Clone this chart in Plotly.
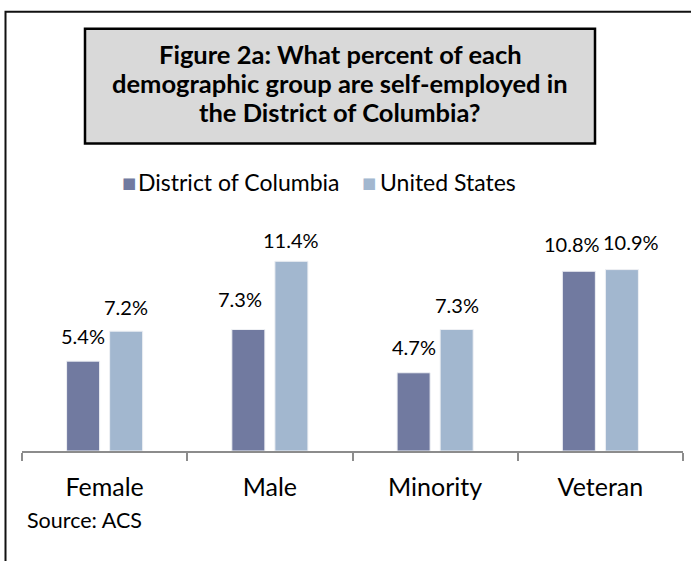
import plotly.graph_objects as go

categories = ["Female", "Male", "Minority", "Veteran"]
dc_values = [5.4, 7.3, 4.7, 10.8]
us_values = [7.2, 11.4, 7.3, 10.9]
series_names = ["District of Columbia", "United States"]
series_colors = ["#717AA0", "#A2B7CF"]
title_lines = ["Figure 2a: What percent of each",
               "demographic group are self-employed in",
               "the District of Columbia?"]
source_text = "Source: ACS"

FONT = "Lato, Carlito, Calibri, sans-serif"
W, H = 691, 561
L, R = 22, 8
AXIS_Y = 451
YMAX = 14
PX_PER = 16.67
TOP = AXIS_Y - YMAX * PX_PER


def px_x(p):
    return (p - L) / (W - L - R)


def px_y(p):
    return (AXIS_Y - p) / (AXIS_Y - TOP)


fig = go.Figure()
fig.add_trace(go.Bar(x=categories, y=dc_values, name=series_names[0], showlegend=False,
                     marker=dict(color=series_colors[0], line=dict(width=1, color="#EEF0F4"))))
fig.add_trace(go.Bar(x=categories, y=us_values, name=series_names[1], showlegend=False,
                     marker=dict(color=series_colors[1], line=dict(width=1, color="#EEF0F4"))))

annotations = []
# data labels (label offsets in pixels, as placed in the original)
dc_dx = [0, -8, 0, -7]
dc_dy = [25, 31, 26, 27]
us_dx = [0, 0, 0, 9]
us_dy = [24, 21, 25, 28]
LBL = dict(family=FONT, size=20, color="#000")
for i, c in enumerate(categories):
    annotations.append(dict(x=c, y=dc_values[i], xref="x", yref="y",
                            text=f"{dc_values[i]:.1f}%", showarrow=False,
                            xshift=-21.5 + dc_dx[i], yshift=dc_dy[i], font=LBL))
    annotations.append(dict(x=c, y=us_values[i], xref="x", yref="y",
                            text=f"{us_values[i]:.1f}%", showarrow=False,
                            xshift=21.5 + us_dx[i], yshift=us_dy[i], font=LBL))

# title lines
for k, line in enumerate(title_lines):
    annotations.append(dict(x=px_x(340), y=px_y(53 + k * 29), xref="paper", yref="paper",
                            text=f"<b>{line}</b>", showarrow=False,
                            xanchor="center", yanchor="middle",
                            font=dict(family=FONT, size=25.5, color="#000")))

# legend (manual, to match the tight key/text spacing)
leg_sq_x = [120, 360]
leg_tx_x = [136, 378]
for j in range(2):
    annotations.append(dict(x=px_x(leg_sq_x[j]), y=px_y(183), xref="paper", yref="paper",
                            text="■", showarrow=False, xanchor="left", yanchor="middle",
                            font=dict(family="DejaVu Sans", size=15, color=series_colors[j])))
    annotations.append(dict(x=px_x(leg_tx_x[j]), y=px_y(182), xref="paper", yref="paper",
                            text=series_names[j], showarrow=False, xanchor="left", yanchor="middle",
                            font=dict(family=FONT, size=23, color="#000")))

annotations.append(dict(x=px_x(25), y=px_y(520), xref="paper", yref="paper",
                        text=source_text, showarrow=False, xanchor="left", yanchor="middle",
                        font=dict(family=FONT, size=21.5, color="#000")))

shapes = [
    dict(type="rect", xref="paper", yref="paper",
         x0=px_x(5.5), x1=px_x(720), y0=px_y(11), y1=px_y(620),
         line=dict(color="#111", width=2), fillcolor="rgba(0,0,0,0)", layer="below"),
    dict(type="rect", xref="paper", yref="paper",
         x0=px_x(85), x1=px_x(595), y0=px_y(28), y1=px_y(143),
         line=dict(color="#000", width=2.5), fillcolor="#D9D9D9", layer="below"),
]

fig.update_layout(
    width=W, height=H,
    margin=dict(l=L, r=R, t=TOP, b=H - AXIS_Y, pad=0),
    paper_bgcolor="white", plot_bgcolor="white",
    barmode="group", bargap=0.479, bargroupgap=0.233,
    showlegend=False,
    annotations=annotations,
    shapes=shapes,
    font=dict(family=FONT, color="#000"),
)
fig.update_xaxes(showline=True, linecolor="#8C8C8C", linewidth=1.5,
                 ticks="outside", tickson="boundaries", ticklen=8, tickcolor="#8C8C8C",
                 tickwidth=1.5, ticklabelstandoff=13,
                 tickfont=dict(family=FONT, size=25, color="#000"), showgrid=False)
fig.update_yaxes(range=[0, YMAX], visible=False, showgrid=False)

fig.write_html("out.html", config={"displayModeBar": False},
               post_script="document.body.style.margin='0px';")
